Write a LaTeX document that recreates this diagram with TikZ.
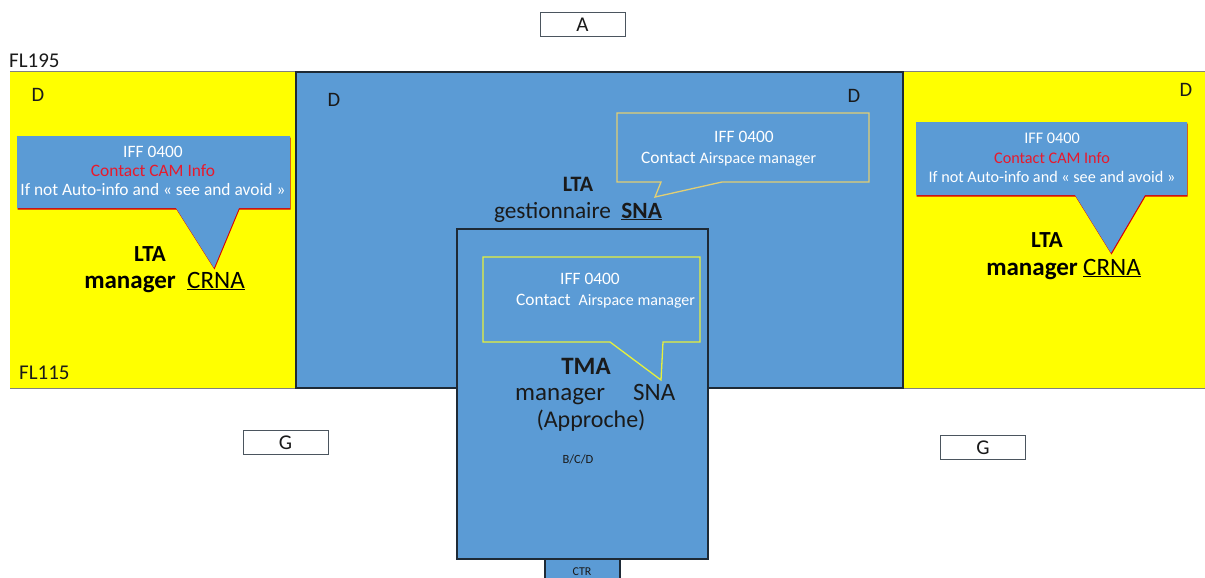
\documentclass[tikz,border=0pt]{standalone}
\usepackage{fontspec}
\setmainfont{Carlito}
\definecolor{sky}{HTML}{5B9BD5}
\definecolor{yel}{HTML}{FFFF00}
\definecolor{edge}{HTML}{1E2A36}
\definecolor{redt}{HTML}{E8192C}
\definecolor{paleY}{HTML}{E2CF74}
\definecolor{limeY}{HTML}{E6F03C}
\definecolor{ink}{HTML}{1A1A1A}
\tikzset{
  zone/.style={draw=edge, line width=1.2pt},
  lbl/.style={inner sep=0pt, text=ink, font=\fontsize{20.5}{22}\selectfont},
  classbox/.style={draw=edge!80, line width=0.9pt, fill=white, minimum width=85pt, minimum height=24pt, inner sep=0pt, font=\fontsize{21}{23}\selectfont, text=ink},
  ctext/.style={inner sep=0pt, text=white, font=\fontsize{17.4}{19}\selectfont, align=center},
  big/.style={inner sep=0pt, text=black, font=\fontsize{25}{28}\selectfont},
}
\begin{document}
\begin{tikzpicture}[x=1pt,y=-1pt]
\useasboundingbox (0,0) rectangle (1205,578);
% levels
\fill[yel] (10,72) rectangle (296,388);
\fill[yel] (903,72) rectangle (1205,388);
\draw[gray, line width=1pt] (10,72) -- (1205,72);
\draw[gray, line width=1pt] (10,388.5) -- (1205,388.5);
\draw[zone, fill=sky] (296,72) rectangle (903,388);
\draw[zone, fill=sky] (457,229) rectangle (708,559);
\draw[zone, fill=sky] (545,559) rectangle (620,580);
% class boxes
\node[classbox] (A) at (582.5,24.5) {A};
\node[classbox] (G1) at (285.5,442.5) {G};
\node[classbox] (G2) at (983,447.5) {G};
% flight levels
\node[lbl, anchor=west, font=\fontsize{21}{23}\selectfont] (fl195) at (9,61) {FL195};
\node[lbl, anchor=west, font=\fontsize{21}{23}\selectfont] (fl115) at (19,373) {FL115};
% D labels
\node[lbl] (d1) at (38,95) {D};
\node[lbl] (d2) at (334,100) {D};
\node[lbl] (d3) at (854,96) {D};
\node[lbl] (d4) at (1186,90) {D};
% left callout
\fill[red!85!black] (17.5,137.5) -- (290.5,137.5) -- (290.5,209.5) -- (239.5,209.5) -- (214.5,269.5) -- (176.5,209.5) -- (17.5,209.5) -- cycle;
\fill[sky] (17,136) -- (290,136) -- (290,208) -- (239,208) -- (214,268) -- (176,208) -- (17,208) -- cycle;
\node[ctext] (l1) at (153,152) {IFF 0400};
\node[ctext, text=redt] (l2) at (153,171) {Contact CAM Info};
\node[ctext] (l3) at (153,190) {If not Auto-info and « see and avoid »};
\node[inner sep=0pt, font=\bfseries\fontsize{23}{26}\selectfont] (lta1) at (150,254) {LTA};
\node[big, anchor=base east, font=\bfseries\fontsize{25}{28}\selectfont] (man1) at (176,288) {manager};
\node[big, anchor=base west] (crna1) at (187,288) {\underline{CRNA}};
% right callout
\fill[red!85!black] (916.5,123.5) -- (1187.5,123.5) -- (1187.5,196.5) -- (1145.5,196.5) -- (1111.5,254.5) -- (1075.5,196.5) -- (916.5,196.5) -- cycle;
\fill[sky] (916,122) -- (1187,122) -- (1187,195) -- (1145,195) -- (1111,253) -- (1075,195) -- (916,195) -- cycle;
\node[ctext, font=\fontsize{16.2}{18}\selectfont] (r1) at (1052,138) {IFF 0400};
\node[ctext, font=\fontsize{16.2}{18}\selectfont, text=redt] (r2) at (1052,158) {Contact CAM Info};
\node[ctext, font=\fontsize{16.2}{18}\selectfont] (r3) at (1052,177) {If not Auto-info and « see and avoid »};
\node[inner sep=0pt, font=\bfseries\fontsize{23}{26}\selectfont] (lta2) at (1047,240) {LTA};
\node[big, anchor=base east, font=\bfseries\fontsize{25}{28}\selectfont] (man2) at (1078,275) {manager};
\node[big, anchor=base west] (crna2) at (1083,275) {\underline{CRNA}};
% center callout
\draw[paleY, line width=1.3pt] (617,113) -- (869,113) -- (869,182) -- (722,182) -- (655,197) -- (661,182) -- (617,182) -- cycle;
\node[ctext] (c1) at (744,137) {IFF 0400};
\node[ctext, anchor=base west] (c2) at (641,163) {Contact \fontsize{16}{18}\selectfont Airspace manager};
\node[inner sep=0pt, font=\bfseries\fontsize{22}{25}\selectfont, text=ink] (lta3) at (578,184) {LTA};
\node[inner sep=0pt, anchor=base, font=\fontsize{23.3}{26}\selectfont, text=ink] (gest) at (578,218) {gestionnaire\ \ \textbf{\underline{SNA}}};
% TMA callout
\draw[limeY, line width=1.3pt] (483,257) -- (700,257) -- (700,342) -- (663,342) -- (661,380) -- (610,342) -- (483,342) -- cycle;
\node[ctext] (t1) at (590,279) {IFF 0400};
\node[ctext, anchor=base west] (t2) at (516,305) {Contact \ \fontsize{16}{18}\selectfont Airspace manager};
\node[inner sep=0pt, font=\bfseries\fontsize{25}{28}\selectfont, text=ink] (tma) at (586,366) {TMA};
\node[big, anchor=base west, text=ink] (man3) at (515,400) {manager};
\node[big, anchor=base west, text=ink] (sna) at (633,400) {SNA};
\node[big, text=ink, font=\fontsize{24}{27}\selectfont] (appr) at (591,421) {(Approche)};
\node[inner sep=0pt, font=\fontsize{12.5}{14}\selectfont, text=ink] (bcd) at (578,459) {B/C/D};
\node[inner sep=0pt, font=\fontsize{12}{14}\selectfont, text=ink] (ctr) at (582,572) {CTR};
\end{tikzpicture}
\end{document}
